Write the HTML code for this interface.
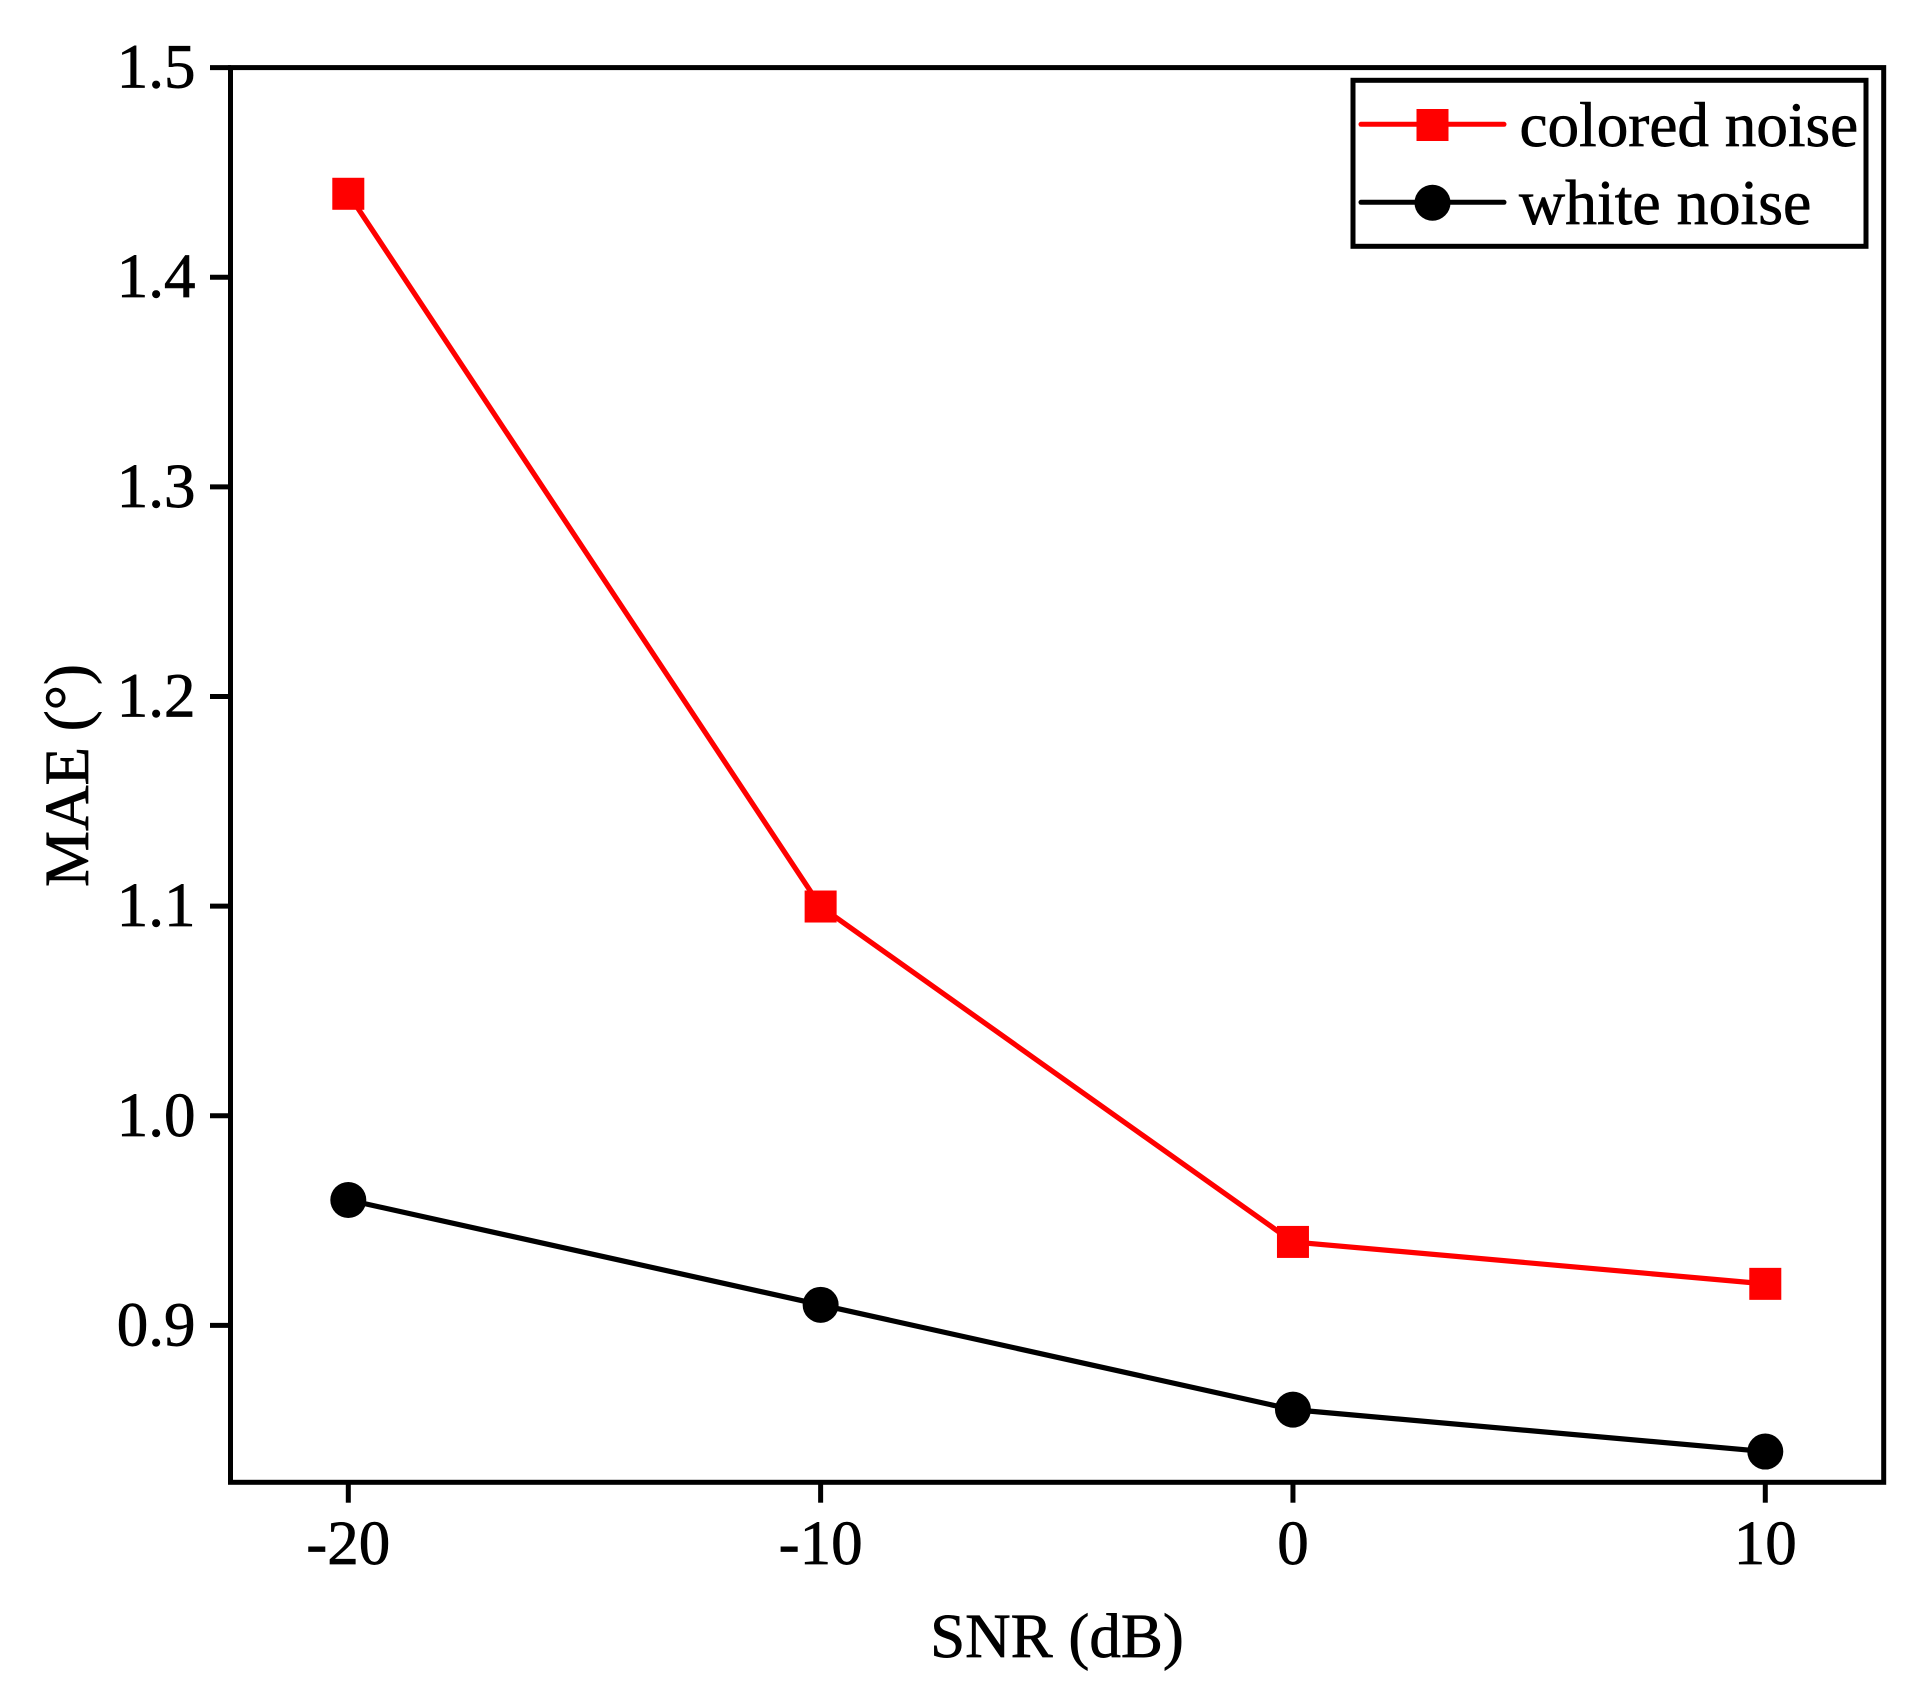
<!DOCTYPE html>
<html lang="en">
<head>
<meta charset="utf-8">
<title>MAE vs SNR</title>
<style>
html,body{margin:0;padding:0;background:#fff;}
body{width:1931px;height:1696px;overflow:hidden;}
svg{display:block;}
text{font-family:"Liberation Serif",serif;font-size:63px;fill:#000;stroke:#000;stroke-width:0.7px;text-rendering:geometricPrecision;}
</style>
</head>
<body>
<svg id="chart" xmlns="http://www.w3.org/2000/svg" width="1931" height="1696" viewBox="0 0 1931 1696">
  <rect x="0" y="0" width="1931" height="1696" fill="#fff"/>
  <g id="series-layer"></g>
  <rect x="230.5" y="67.6" width="1653.2" height="1414.7" fill="none" stroke="#000" stroke-width="5"/>
  <g id="axis-layer"></g>
  <text x="1057" y="1657" text-anchor="middle">SNR (dB)</text>
  <text transform="translate(88 775.5) rotate(-90)" text-anchor="middle">MAE (°)</text>
  <g>
    <rect x="1353" y="80.3" width="513" height="166" fill="#fff" stroke="#000" stroke-width="5"/>
    <g>
      <line x1="1361" y1="124.3" x2="1504" y2="124.3" stroke="#f00" stroke-width="5" stroke-linecap="round"/>
      <rect x="1416.5" y="109" width="32" height="32" fill="#f00"/>
      <text x="1519.5" y="146" style="font-size:63.2px">colored noise</text>
    </g>
    <g>
      <line x1="1361" y1="202.3" x2="1504" y2="202.3" stroke="#000" stroke-width="5" stroke-linecap="round"/>
      <circle cx="1432.5" cy="202.7" r="18" fill="#000"/>
      <text x="1519" y="224" style="font-size:63.8px">white noise</text>
    </g>
  </g>
</svg>
<script>
const snrValues = [-20, -10, 0, 10];
const coloredNoise = [1.44, 1.10, 0.94, 0.92];
const whiteNoise = [0.96, 0.91, 0.86, 0.84];
const xTickValues = [-20, -10, 0, 10];
const xTickLabels = ["-20", "-10", "0", "10"];
const yTickValues = [0.9, 1.0, 1.1, 1.2, 1.3, 1.4, 1.5];
const yTickLabels = ["0.9", "1.0", "1.1", "1.2", "1.3", "1.4", "1.5"];

const NS = "http://www.w3.org/2000/svg";
function xScale(v) { return 348.3 + (v + 20) * 47.233; }
function yScale(v) { return 68 + (1.5 - v) * 2096.3; }
function make(tag, attrs, parent) {
  const el = document.createElementNS(NS, tag);
  for (const k in attrs) el.setAttribute(k, attrs[k]);
  parent.appendChild(el);
  return el;
}
const axisLayer = document.getElementById("axis-layer");
const seriesLayer = document.getElementById("series-layer");

xTickValues.forEach(function (v, i) {
  const x = xScale(v);
  const tick = make("line", {x1: x, y1: 1482, x2: x, y2: 1502.7, stroke: "#000", "stroke-width": 5}, axisLayer);
  
  
  const label = make("text", {x: x, y: 1564, "text-anchor": "middle"}, axisLayer);
  
  
  label.textContent = xTickLabels[i];
});

yTickValues.forEach(function (v, i) {
  const y = yScale(v);
  const tick = make("line", {x1: 210, y1: y - 0.4, x2: 231, y2: y - 0.4, stroke: "#000", "stroke-width": 5}, axisLayer);
  
  
  const label = make("text", {x: 195.5, y: y + 19.6, "text-anchor": "end"}, axisLayer);
  
  
  label.textContent = yTickLabels[i];
});

function linePoints(values) {
  return values.map(function (v, i) { return xScale(snrValues[i]) + "," + yScale(v); }).join(" ");
}

const coloredLine = make("polyline", {points: linePoints(coloredNoise), fill: "none", stroke: "#f00", "stroke-width": 5.2}, seriesLayer);


coloredNoise.forEach(function (v, i) {
  const m = make("rect", {x: xScale(snrValues[i]) - 16, y: yScale(v) - 16, width: 32, height: 32, fill: "#f00"}, seriesLayer);
  
  
});

const whiteLine = make("polyline", {points: linePoints(whiteNoise), fill: "none", stroke: "#000", "stroke-width": 5.2}, seriesLayer);


whiteNoise.forEach(function (v, i) {
  const m = make("circle", {cx: xScale(snrValues[i]), cy: yScale(v), r: 18, fill: "#000"}, seriesLayer);
  
  
});
</script>
</body>
</html>
